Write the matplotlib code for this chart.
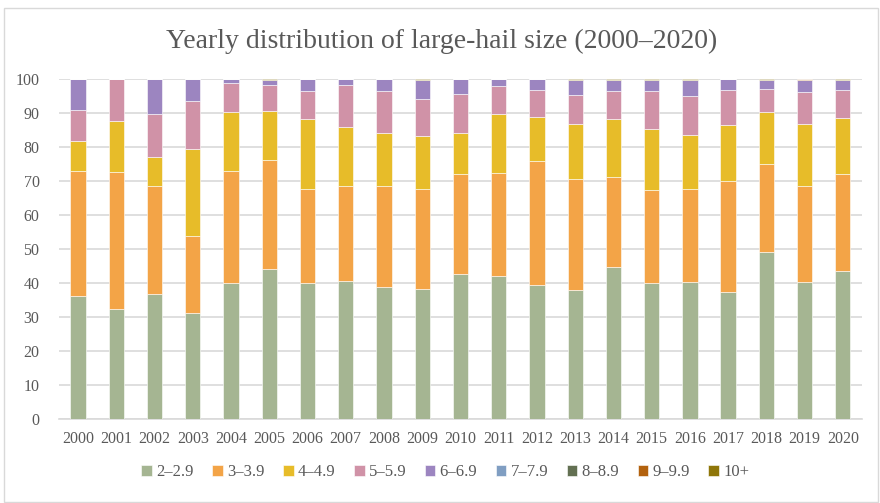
import numpy as np
import matplotlib
matplotlib.use("Agg")
import matplotlib.pyplot as plt
from matplotlib.patches import Rectangle

# --- DATA (percent of large-hail reports per size class) ---
years = [str(y) for y in range(2000, 2021)]
size_classes = ["2–2.9", "3–3.9", "4–4.9", "5–5.9", "6–6.9",
                "7–7.9", "8–8.9", "9–9.9", "10+"]

s2_29 = [36.3, 32.3, 36.7, 31.1, 40.0, 44.2, 40.0, 40.6, 38.8, 38.3, 42.7,
         42.0, 39.3, 37.8, 44.7, 40.0, 40.4, 37.3, 49.2, 40.3, 43.5]
s3_39 = [36.6, 40.3, 31.8, 22.7, 32.9, 32.1, 27.6, 27.9, 29.6, 29.2, 29.3,
         30.2, 36.5, 32.9, 26.4, 27.3, 27.2, 32.6, 25.7, 28.2, 28.5]
s4_49 = [9.0, 15.0, 8.5, 25.7, 17.3, 14.3, 20.6, 17.3, 15.6, 15.7, 12.1,
         17.4, 13.0, 16.0, 17.1, 17.9, 15.9, 16.5, 15.3, 18.2, 16.5]
s5_59 = [9.0, 12.4, 12.6, 14.0, 8.7, 7.6, 8.2, 12.3, 12.4, 10.8, 11.4,
         8.3, 8.0, 8.5, 8.4, 11.2, 11.4, 10.4, 6.9, 9.4, 8.2]
s6_69 = [9.1, 0.0, 10.4, 6.5, 1.1, 1.5, 3.6, 1.9, 3.6, 5.7, 4.5,
         2.1, 3.2, 4.6, 3.2, 3.3, 4.7, 3.2, 2.7, 3.6, 3.1]
s7_79 = [0.0] * 21
s8_89 = [0.0, 0.0, 0.0, 0.0, 0.0, 0.1, 0.0, 0.0, 0.0, 0.0, 0.0,
         0.0, 0.0, 0.0, 0.0, 0.0, 0.0, 0.0, 0.0, 0.1, 0.0]
s9_99 = [0.0, 0.0, 0.0, 0.0, 0.0, 0.0, 0.0, 0.0, 0.0, 0.0, 0.0,
         0.0, 0.0, 0.0, 0.0, 0.0, 0.0, 0.0, 0.0, 0.1, 0.0]
s10p = [0.0, 0.0, 0.0, 0.0, 0.0, 0.2, 0.0, 0.0, 0.0, 0.3, 0.0,
        0.0, 0.0, 0.2, 0.2, 0.3, 0.4, 0.0, 0.2, 0.1, 0.2]

series = [s2_29, s3_39, s4_49, s5_59, s6_69, s7_79, s8_89, s9_99, s10p]
colors = ["#A5B592", "#F3A447", "#E7BC29", "#D092A7", "#9C85C0",
          "#809EC2", "#637052", "#B3620E", "#8F7609"]

TEXT = "#595959"
GRID = "#D9D9D9"

plt.rcParams["font.family"] = ["Liberation Serif", "DejaVu Serif"]

fig = plt.figure(figsize=(8.8, 5.03), dpi=100)
ax = fig.add_axes([0.067, 0.167, 0.9125, 0.676])

x = np.arange(len(years))
bottom = np.zeros(len(years))
for name, vals, col in zip(size_classes, series, colors):
    vals = np.array(vals)
    ax.bar(x, vals, width=0.4, bottom=bottom, color=col, label=name,
           edgecolor="white", linewidth=0.4, zorder=3)
    bottom += vals

ax.set_xlim(-0.5, len(years) - 0.5)
ax.set_ylim(0, 100)
ax.set_yticks(range(0, 101, 10))
ax.set_xticks(x)
ax.set_xticklabels(years)
ax.tick_params(axis="both", length=0, colors=TEXT, labelsize=11.5)
ax.tick_params(axis="x", pad=9)
ax.tick_params(axis="y", pad=14)
ax.grid(axis="y", color=GRID, linewidth=1.2, zorder=0)
for side in ["left", "right", "top"]:
    ax.spines[side].set_visible(False)
ax.spines["bottom"].set_color(GRID)
ax.spines["bottom"].set_linewidth(1.2)

fig.text(0.502, 0.918, "Yearly distribution of large-hail size (2000–2020)",
         ha="center", va="center", fontsize=20, color=TEXT)

fig.legend(loc="center", bbox_to_anchor=(0.506, 0.061), ncol=9, frameon=False,
           fontsize=12, labelcolor=TEXT, handlelength=0.65, handleheight=0.65,
           handletextpad=0.25, columnspacing=1.1)

# chart-area frame
fig.patches.append(Rectangle((4 / 880, 1 / 503), 874 / 880, 494 / 503,
                             transform=fig.transFigure, fill=False,
                             edgecolor=GRID, linewidth=1.0))

fig.savefig("out.png", dpi=100, facecolor="white")
